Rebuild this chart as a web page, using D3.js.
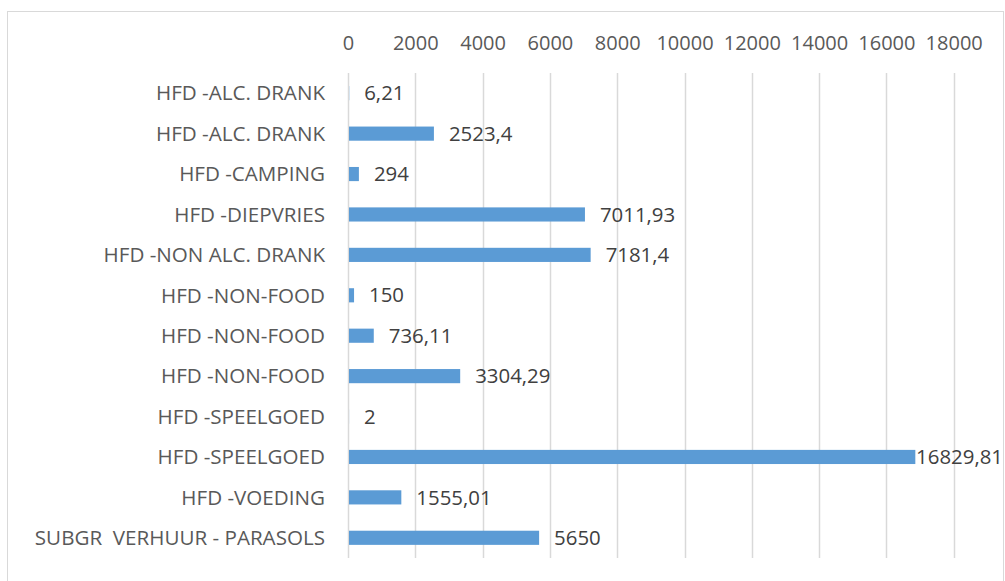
<!DOCTYPE html>
<html>
<head>
<meta charset="utf-8">
<script src="https://cdn.jsdelivr.net/npm/d3@7"></script>
<style>
  html, body { margin: 0; padding: 0; background: #fff; }
  svg { display: block; }
  text { font-family: "Open Sans", "Noto Sans", sans-serif; white-space: pre; }
</style>
</head>
<body>
<svg id="chart" width="1005" height="581"></svg>
<script>
const categories = [
  "HFD -ALC. DRANK",
  "HFD -ALC. DRANK",
  "HFD -CAMPING",
  "HFD -DIEPVRIES",
  "HFD -NON ALC. DRANK",
  "HFD -NON-FOOD",
  "HFD -NON-FOOD",
  "HFD -NON-FOOD",
  "HFD -SPEELGOED",
  "HFD -SPEELGOED",
  "HFD -VOEDING",
  "SUBGR  VERHUUR - PARASOLS"
];
const values = [6.21, 2523.4, 294, 7011.93, 7181.4, 150, 736.11, 3304.29, 2, 16829.81, 1555.01, 5650];
const valueLabels = ["6,21", "2523,4", "294", "7011,93", "7181,4", "150", "736,11", "3304,29", "2", "16829,81", "1555,01", "5650"];
const tickValues = [0, 2000, 4000, 6000, 8000, 10000, 12000, 14000, 16000, 18000];

const svg = d3.select("#chart");
const W = 1005, H = 581;
const plot = { left: 348, right: 953.7, top: 73, bottom: 558 };

// chart border
svg.append("rect")
  .attr("x", 7.5).attr("y", 11.5)
  .attr("width", 996).attr("height", 620)
  .attr("fill", "none").attr("stroke", "#D9D9D9").attr("stroke-width", 1);

const x = d3.scaleLinear().domain([0, 18000]).range([plot.left, plot.right]);
const idx = categories.map((d, i) => i);
const y = d3.scaleBand().domain(idx).range([plot.top, plot.bottom]).paddingInner(0.65).paddingOuter(0.325);

// gridlines
svg.append("g").selectAll("line").data(tickValues.slice(1)).join("line")
  .attr("x1", d => Math.round(x(d)) + 0.5).attr("x2", d => Math.round(x(d)) + 0.5)
  .attr("y1", plot.top).attr("y2", plot.bottom)
  .attr("stroke", "#D9D9D9").attr("stroke-width", 1.5);

// top axis labels
const xAxis = d3.axisTop(x).tickValues(tickValues).tickSize(0).tickPadding(0).tickFormat(d => String(d));
const gx = svg.append("g").attr("transform", `translate(0, 50)`).call(xAxis);
gx.select(".domain").remove();
gx.selectAll("text")
  .attr("font-size", 20).attr("fill", "#595959")
  .attr("font-family", "'Open Sans', sans-serif")
  .attr("dy", 0);

// category axis line
svg.append("line")
  .attr("x1", plot.left + 0.5).attr("x2", plot.left + 0.5)
  .attr("y1", plot.top).attr("y2", plot.bottom)
  .attr("stroke", "#D9D9D9").attr("stroke-width", 1.5);

// category labels
const yAxis = d3.axisLeft(y).tickSize(0).tickPadding(23).tickFormat(i => categories[i]);
const gy = svg.append("g").attr("transform", `translate(${plot.left}, 0)`).call(yAxis);
gy.select(".domain").remove();
gy.selectAll("text")
  .attr("font-size", 20.6).attr("fill", "#595959")
  .attr("font-family", "'Open Sans', sans-serif")
  .attr("xml:space", "preserve")
  .style("white-space", "pre")
  .attr("dy", "0.35em");

// bars
svg.append("g").selectAll("rect").data(idx).join("rect")
  .attr("x", x(0) + 1)
  .attr("y", i => y(i))
  .attr("width", i => Math.max(0, x(values[i]) - x(0)))
  .attr("height", y.bandwidth())
  .attr("fill", "#5B9BD5");

// value labels
const lbl = svg.append("g").selectAll("text").data(idx).join("text")
  .attr("y", i => y(i) + y.bandwidth() / 2)
  .attr("dy", "0.35em")
  .attr("font-size", 20.4).attr("fill", "#404040")
  .attr("font-family", "'Open Sans', sans-serif")
  .text(i => valueLabels[i]);
lbl.each(function(i) {
  const w = this.getComputedTextLength();
  const px = Math.min(x(values[i]) + 16, W - 2 - w);
  d3.select(this).attr("x", px);
});
</script>
</body>
</html>
